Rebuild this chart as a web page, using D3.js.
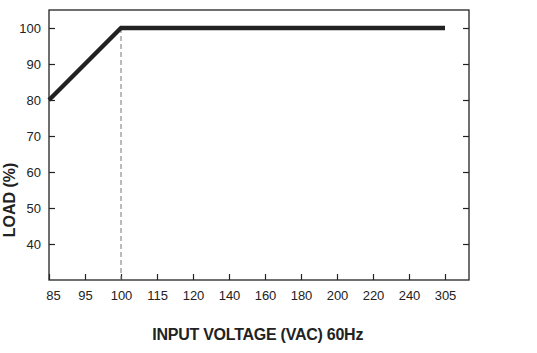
<!DOCTYPE html>
<html>
<head>
<meta charset="utf-8">
<script src="https://cdn.jsdelivr.net/npm/d3@7"></script>
<style>
  body { margin: 0; background: #fff; }
  .tick text { font-family: "Liberation Sans Narrow", "Arial Narrow", "Liberation Sans", Arial, sans-serif; font-size: 13px; fill: #222; }
  .tick line { stroke: #222; stroke-width: 1.2; }
  .title { font-family: "Liberation Sans", Arial, sans-serif; font-weight: bold; font-size: 16px; fill: #222; }
</style>
</head>
<body>
<svg width="537" height="353"></svg>
<script>
const svg = d3.select('svg')

// data
const voltTicks = [85, 95, 100, 115, 120, 140, 160, 180, 200, 220, 240, 305]
const loadTicks = [40, 50, 60, 70, 80, 90, 100]
const curveVolt = [85, 100, 305]
const curveLoad = [80, 100, 100]
const kneeVolt = 100

const plotL = 49, plotR = 469, plotT = 10, plotB = 280

const x = d3.scalePoint()
  .domain(voltTicks)
  .range([plotL, 445])

const y = d3.scaleLinear()
  .domain([30, 105])
  .range([plotB, plotT])

/* frame */
svg.append('rect')
  .attr('x', plotL).attr('y', plotT)
  .attr('width', plotR - plotL).attr('height', plotB - plotT)
  .attr('fill', 'none').attr('stroke', '#222').attr('stroke-width', 1.3)

/* axes, ticks pointing inward */
const gx = svg.append('g')
  .attr('transform', `translate(0,${plotB})`)
  .call(d3.axisBottom(x).tickSizeInner(-6).tickSizeOuter(0).tickPadding(10.5))
gx.select('.domain').remove()
gx.select('.tick text').attr('dx', 4)

const gy = svg.append('g')
  .attr('transform', `translate(${plotL},0)`)
  .call(d3.axisLeft(y).tickValues(loadTicks).tickSizeInner(-6).tickSizeOuter(0).tickPadding(8))
gy.select('.domain').remove()

const gr = svg.append('g')
  .attr('transform', `translate(${plotR},0)`)
  .call(d3.axisRight(y).tickValues(loadTicks).tickSizeInner(-6).tickSizeOuter(0).tickFormat(''))
gr.select('.domain').remove()

/* dashed guide at the knee */
svg.append('line')
  .attr('x1', x(kneeVolt)).attr('x2', x(kneeVolt))
  .attr('y1', y(100)).attr('y2', plotB)
  .attr('stroke', '#777').attr('stroke-width', 1)
  .attr('stroke-dasharray', '5,3')

/* derating curve */
const line = d3.line()
  .x(d => x(d[0]))
  .y(d => y(d[1]))

svg.append('path')
  .datum(curveVolt.map((v, i) => [v, curveLoad[i]]))
  .attr('d', line)
  .attr('fill', 'none')
  .attr('stroke', '#222')
  .attr('stroke-width', 4.3)
  .attr('stroke-linejoin', 'miter')

/* titles */
svg.append('text').classed('title', true)
  .attr('x', 257.7).attr('y', 339.5)
  .attr('text-anchor', 'middle')
  .style('letter-spacing', '-0.25px')
  .text('INPUT VOLTAGE (VAC) 60Hz')

svg.append('text').classed('title', true)
  .attr('transform', 'translate(15,200) rotate(-90)')
  .attr('text-anchor', 'middle')
  .text('LOAD (%)')
</script>
</body>
</html>
